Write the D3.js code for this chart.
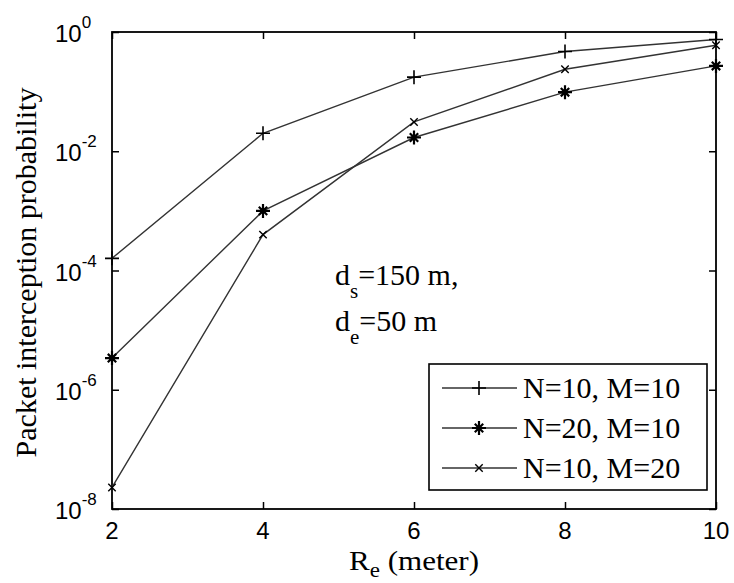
<!DOCTYPE html>
<html>
<head>
<meta charset="utf-8">
<script src="https://cdn.jsdelivr.net/npm/d3@7"></script>
<style>
  body { margin: 0; background: #fff; }
  svg { display: block; }
  .tick-label { font-family: "Liberation Sans", Arial, sans-serif; font-size: 24px; fill: #000; }
  .serif { font-family: "Liberation Serif", "Times New Roman", serif; fill: #000; }
</style>
</head>
<body>
<div id="chart"></div>
<script>

// Data
var radii = [2, 4, 6, 8, 10];
var seriesNames = ['N=10, M=10', 'N=20, M=10', 'N=10, M=20'];
var seriesMarkers = ['plus', 'star', 'cross'];
var probN10M10 = [1.6e-4, 2.0e-2, 0.175, 0.47, 0.75];
var probN20M10 = [3.4e-6, 1.0e-3, 1.7e-2, 0.098, 0.27];
var probN10M20 = [2.3e-8, 4.0e-4, 3.1e-2, 0.237, 0.6];
var xTicks = [2, 4, 6, 8, 10];
var yTickExps = [0, -2, -4, -6, -8];

var width = 734,
    height = 583,
    margin = { top: 32, right: 18, bottom: 74, left: 112 };

var svg = d3.select('#chart')
  .append('svg')
    .attr('width', width)
    .attr('height', height);

var x = d3.scaleLinear()
  .domain([2, 10])
  .range([margin.left, width - margin.right]);

var y = d3.scaleLog()
  .domain([1e-8, 1])
  .range([height - margin.bottom, margin.top]);

var series = [probN10M10, probN20M10, probN10M20].map(function(vals, i){
  return {
    name : seriesNames[i],
    marker : seriesMarkers[i],
    points : radii.map(function(r, j){ return { r : r, p : vals[j] }; })
  };
});

// Marker shapes
function markerPath(type, s){
  if (type === 'plus') {
    return 'M' + (-s) + ',0H' + s + 'M0,' + (-s) + 'V' + s;
  }
  if (type === 'cross') {
    var c = s * 0.62;
    return 'M' + (-c) + ',' + (-c) + 'L' + c + ',' + c + 'M' + (-c) + ',' + c + 'L' + c + ',' + (-c);
  }
  var d = s * 0.6;
  return 'M' + (-s) + ',0H' + s + 'M0,' + (-s) + 'V' + s +
         'M' + (-d) + ',' + (-d) + 'L' + d + ',' + d + 'M' + (-d) + ',' + d + 'L' + d + ',' + (-d);
}
var markerSize = { plus : 7, star : 7, cross : 6 };
var markerWidth = { plus : 1.6, star : 2.2, cross : 1.4 };

// Axes box with inward ticks on all four sides
var x0 = x.range()[0], x1 = x.range()[1],
    y0 = y.range()[0], y1 = y.range()[1];

svg.append('g')
  .attr('transform', 'translate(0,' + y0 + ')')
  .call(d3.axisBottom(x).tickValues(xTicks).tickSizeInner(-7).tickSizeOuter(0).tickFormat(''));
svg.append('g')
  .attr('transform', 'translate(0,' + y1 + ')')
  .call(d3.axisTop(x).tickValues(xTicks).tickSizeInner(-7).tickSizeOuter(0).tickFormat(''));
var yTickVals = yTickExps.map(function(e){ return Math.pow(10, e); });
svg.append('g')
  .attr('transform', 'translate(' + x0 + ',0)')
  .call(d3.axisLeft(y).tickValues(yTickVals).tickSizeInner(-7).tickSizeOuter(0).tickFormat(''));
svg.append('g')
  .attr('transform', 'translate(' + x1 + ',0)')
  .call(d3.axisRight(y).tickValues(yTickVals).tickSizeInner(-7).tickSizeOuter(0).tickFormat(''));
svg.selectAll('.domain').remove();
svg.selectAll('.tick line').attr('stroke', '#000').attr('stroke-width', 1.5);

svg.append('rect')
  .attr('x', x0)
  .attr('y', y1)
  .attr('width', x1 - x0)
  .attr('height', y0 - y1)
  .attr('fill', 'none')
  .attr('stroke', '#000')
  .attr('stroke-width', 1.8);

// X tick labels
svg.selectAll('.x-label')
  .data(xTicks)
  .enter()
    .append('text')
      .attr('class', 'tick-label')
      .attr('x', function(d){ return x(d); })
      .attr('y', y0 + 30)
      .attr('text-anchor', 'middle')
      .text(function(d){ return d; });

// Y tick labels as 10^e
var yLabels = svg.selectAll('.y-label')
  .data(yTickExps)
  .enter()
    .append('text')
      .attr('class', 'tick-label')
      .attr('x', 55)
      .attr('y', function(d){ return y(Math.pow(10, d)) + 10; });
yLabels.append('tspan').text('10');
yLabels.append('tspan')
  .attr('dy', -14)
  .attr('font-size', 17)
  .text(function(d){ return d === 0 ? '0' : '-' + Math.abs(d); });

// Series lines and markers
var line = d3.line()
  .x(function(d){ return x(d.r); })
  .y(function(d){ return y(d.p); });

series.forEach(function(s){
  svg.append('path')
    .datum(s.points)
    .attr('d', line)
    .attr('fill', 'none')
    .attr('stroke', '#333')
    .attr('stroke-width', 1.4);

  svg.selectAll(null)
    .data(s.points)
    .enter()
      .append('path')
        .attr('transform', function(d){ return 'translate(' + x(d.r) + ',' + y(d.p) + ')'; })
        .attr('d', markerPath(s.marker, markerSize[s.marker]))
        .attr('stroke', '#000')
        .attr('stroke-width', markerWidth[s.marker])
        .attr('fill', 'none');
});

// Axis titles
svg.append('text')
  .attr('class', 'serif')
  .attr('transform', 'translate(36,' + ((y0 + y1) / 2 + 2) + ') rotate(-90)')
  .attr('text-anchor', 'middle')
  .attr('font-size', 30)
  .text('Packet interception probability');

var xTitle = svg.append('text')
  .attr('class', 'serif')
  .attr('transform', 'translate(' + ((x0 + x1) / 2) + ',570) scale(1.15,1)')
  .attr('text-anchor', 'middle')
  .attr('font-size', 27);
xTitle.append('tspan').text('R');
xTitle.append('tspan').attr('dy', 7).attr('font-size', 20).text('e');
xTitle.append('tspan').attr('dy', -7).text(' (meter)');

// Annotation
var notes = [['s', '=150 m,'], ['e', '=50 m']];
notes.forEach(function(n, i){
  var t = svg.append('text')
    .attr('class', 'serif')
    .attr('x', 335)
    .attr('y', 285 + i * 46)
    .attr('font-size', 30);
  t.append('tspan').text('d');
  t.append('tspan').attr('dy', 13).attr('font-size', 21).text(n[0]);
  t.append('tspan').attr('dy', -13).text(n[1]);
});

// Legend
var legend = svg.append('g');
legend.append('rect')
  .attr('x', 429)
  .attr('y', 364)
  .attr('width', 278)
  .attr('height', 126)
  .attr('fill', '#fff')
  .attr('stroke', '#000')
  .attr('stroke-width', 1.6);

series.forEach(function(s, i){
  var ly = 388 + i * 40;
  legend.append('line')
    .attr('x1', 442).attr('x2', 517)
    .attr('y1', ly).attr('y2', ly)
    .attr('stroke', '#333')
    .attr('stroke-width', 1.4);
  legend.append('path')
    .attr('transform', 'translate(479,' + ly + ')')
    .attr('d', markerPath(s.marker, markerSize[s.marker]))
    .attr('stroke', '#000')
    .attr('stroke-width', markerWidth[s.marker])
    .attr('fill', 'none');
  legend.append('text')
    .attr('class', 'serif')
    .attr('x', 523)
    .attr('y', ly + 10)
    .attr('font-size', 30)
    .text(s.name);
});

</script>
</body>
</html>
